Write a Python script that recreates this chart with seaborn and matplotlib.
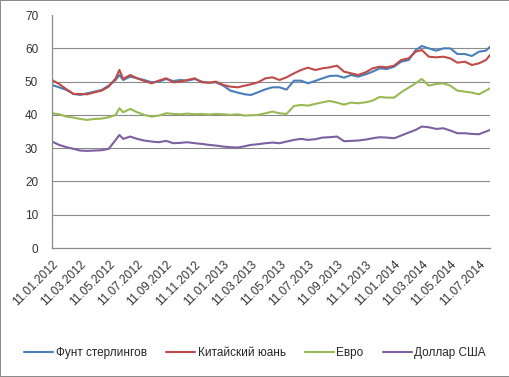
import seaborn as sns
import pandas as pd
import matplotlib.pyplot as plt
import matplotlib.dates as mdates

# semi-monthly readings (plus the June 2012 spike and the last point)
dates = ["2012-01-11", "2012-01-26", "2012-02-11", "2012-02-26", "2012-03-11", "2012-03-26",
         "2012-04-11", "2012-04-26", "2012-05-11", "2012-05-26", "2012-06-03", "2012-06-11",
         "2012-06-26", "2012-07-11", "2012-07-26", "2012-08-11", "2012-08-26", "2012-09-11",
         "2012-09-26", "2012-10-11", "2012-10-26", "2012-11-11", "2012-11-26", "2012-12-11",
         "2012-12-26", "2013-01-11", "2013-01-26", "2013-02-11", "2013-02-26", "2013-03-11",
         "2013-03-26", "2013-04-11", "2013-04-26", "2013-05-11", "2013-05-26", "2013-06-11",
         "2013-06-26", "2013-07-11", "2013-07-26", "2013-08-11", "2013-08-26", "2013-09-11",
         "2013-09-26", "2013-10-11", "2013-10-26", "2013-11-11", "2013-11-26", "2013-12-11",
         "2013-12-26", "2014-01-11", "2014-01-26", "2014-02-11", "2014-02-26", "2014-03-11",
         "2014-03-26", "2014-04-11", "2014-04-26", "2014-05-11", "2014-05-26", "2014-06-11",
         "2014-06-26", "2014-07-11", "2014-07-26", "2014-08-04"]

gbp = [49.0, 48.3, 47.5, 46.3, 46.0, 46.5, 47.0, 47.5, 48.8, 50.5,
       52.0, 50.5, 51.5, 51.0, 50.5, 49.8, 50.0, 50.8, 50.2, 50.5,
       50.3, 50.8, 50.0, 49.7, 49.8, 48.8, 47.3, 46.7, 46.2, 46.0,
       46.8, 47.7, 48.3, 48.3, 47.6, 50.3, 50.3, 49.5, 50.2, 51.0,
       51.7, 51.8, 51.2, 52.0, 51.5, 52.2, 53.0, 54.0, 53.8, 54.5,
       56.0, 56.5, 59.5, 60.7, 60.0, 59.3, 60.0, 60.0, 58.3, 58.3,
       57.7, 59.0, 59.3, 60.5]
cny = [50.5, 49.3, 47.7, 46.3, 46.3, 46.2, 46.8, 47.3, 48.5, 51.0,
       53.5, 50.8, 52.0, 51.0, 50.2, 49.5, 50.3, 51.0, 49.8, 50.0,
       50.5, 51.0, 49.8, 49.7, 50.0, 49.0, 48.5, 48.3, 48.8, 49.2,
       49.8, 51.0, 51.3, 50.5, 51.3, 52.5, 53.5, 54.2, 53.5, 54.0,
       54.3, 54.8, 53.0, 52.5, 52.0, 52.8, 54.0, 54.5, 54.3, 54.8,
       56.5, 57.0, 59.0, 59.5, 57.5, 57.3, 57.5, 57.0, 55.7, 56.0,
       55.0, 55.5, 56.5, 58.0]
eur = [40.5, 40.2, 39.5, 39.2, 38.8, 38.5, 38.8, 38.9, 39.3, 40.0,
       42.0, 40.8, 41.8, 40.8, 40.0, 39.5, 39.8, 40.5, 40.3, 40.2,
       40.4, 40.2, 40.3, 40.1, 40.3, 40.2, 40.0, 40.2, 39.8, 39.9,
       40.0, 40.5, 41.0, 40.5, 40.3, 42.7, 43.0, 42.8, 43.3, 43.8,
       44.2, 43.7, 43.1, 43.7, 43.5, 43.8, 44.3, 45.4, 45.2, 45.2,
       46.8, 48.2, 49.5, 50.8, 48.8, 49.3, 49.5, 48.8, 47.3, 47.0,
       46.7, 46.2, 47.3, 48.0]
usd = [32.0, 31.0, 30.3, 29.8, 29.3, 29.2, 29.3, 29.4, 29.8, 32.5,
       34.0, 32.8, 33.5, 32.8, 32.3, 32.0, 31.8, 32.2, 31.5, 31.6,
       31.8, 31.5, 31.3, 31.0, 30.8, 30.5, 30.3, 30.2, 30.6, 31.0,
       31.2, 31.5, 31.7, 31.5, 32.0, 32.5, 32.8, 32.5, 32.7, 33.2,
       33.3, 33.5, 32.1, 32.2, 32.3, 32.6, 33.0, 33.3, 33.2, 33.0,
       33.8, 34.7, 35.5, 36.5, 36.3, 35.8, 36.0, 35.3, 34.5, 34.5,
       34.3, 34.2, 35.0, 35.5]

names = ["Фунт стерлингов", "Китайский юань", "Евро", "Доллар США"]
colors = ["#4a7ebb", "#be4b48", "#98b954", "#7d60a0"]

tick_dates = ["2012-01-11", "2012-03-11", "2012-05-11", "2012-07-11", "2012-09-11",
              "2012-11-11", "2013-01-11", "2013-03-11", "2013-05-11", "2013-07-11",
              "2013-09-11", "2013-11-11", "2014-01-11", "2014-03-11", "2014-05-11",
              "2014-07-11"]

df = pd.DataFrame({"date": pd.to_datetime(dates), names[0]: gbp, names[1]: cny,
                   names[2]: eur, names[3]: usd})
long = df.melt(id_vars="date", var_name="series", value_name="value")

sns.set_style("white")
plt.rcParams["font.family"] = ["Liberation Sans", "DejaVu Sans"]

fig = plt.figure(figsize=(5.1, 3.77), dpi=100, edgecolor="#8c8c8c", linewidth=1.2)
ax = fig.add_axes([0.102, 0.342, 0.859, 0.618])

sns.lineplot(data=long, x="date", y="value", hue="series", hue_order=names,
             palette=colors, linewidth=1.5, ax=ax)

ax.set_xlim(pd.Timestamp(dates[0]), pd.Timestamp(dates[-1]))
ax.set_ylim(0, 70)
ax.set_yticks(range(0, 71, 10))
ax.set_xticks(pd.to_datetime(tick_dates))
ax.xaxis.set_major_formatter(mdates.DateFormatter("%d.%m.%Y"))
ax.set_xlabel("")
ax.set_ylabel("")

ax.yaxis.grid(True, color="#8a8a8a", linewidth=0.8)
ax.get_ygridlines()[-1].set_visible(False)
ax.get_ygridlines()[0].set_visible(False)
for s in ["top", "right"]:
    ax.spines[s].set_visible(False)
for s in ["left", "bottom"]:
    ax.spines[s].set_color("#8a8a8a")
    ax.spines[s].set_linewidth(0.9)

ax.tick_params(axis="both", which="major", direction="out", length=4, width=0.9,
               color="#8a8a8a", labelsize=8.5, labelcolor="#333333")
ax.tick_params(axis="y", pad=6)
plt.setp(ax.get_xticklabels(), rotation=45, ha="right", rotation_mode="anchor")

sns.move_legend(ax, "center", bbox_to_anchor=(0.5, 0.064), bbox_transform=fig.transFigure,
                ncol=4, frameon=False, title=None, fontsize=8.5, handlelength=2.5,
                handletextpad=0.2, columnspacing=1.6)

plt.savefig("out.png", dpi=100)
